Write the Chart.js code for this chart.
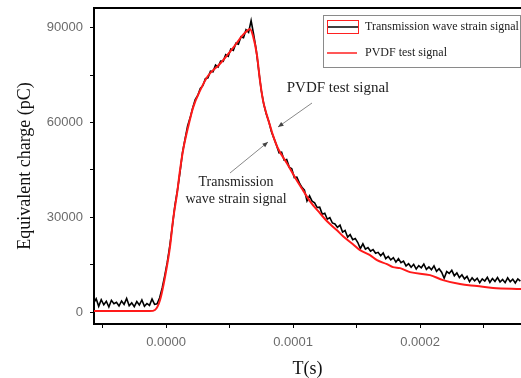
<!DOCTYPE html>
<html>
<head>
<meta charset="utf-8">
<script src="https://cdn.jsdelivr.net/npm/chart.js@4"></script>
<style>
  html, body { margin: 0; padding: 0; background: #fff; overflow: hidden; }
  canvas { display: block; }
</style>
</head>
<body>
<canvas id="chart" width="521" height="378"></canvas>
<script>
// time in microseconds, charge in pC
const pvdfTime = [
    -56.7, -12.6, -8.7, -4.7, -0.8, 3.1, 5.5, 8.7, 11.0, 13.4, 17.3, 21.3, 26.8, 33.1, 42.5,
    52.8, 60.6, 63.8, 66.1, 68.5, 71.7, 74.0, 76.4, 79.5, 81.9, 84.3, 88.2, 95.3, 101.6, 107.9,
    113.4, 121.3, 126.8, 134.6, 139.4, 147.2, 152.8, 160.6, 166.1, 174.0, 178.7, 184.3, 192.1,
    207.9, 218.1, 231.5, 244.9, 257.5, 279.5
];
const pvdfCharge = [
    300, 300, 630, 3790, 11050, 20530, 29050, 37580, 44840, 51160, 58420, 64740, 70110, 74840, 78630,
    83680, 87790, 89050, 89680, 87470, 81160, 73260, 66950, 62210, 59050, 55890, 51790, 47050, 42630, 38530,
    35050, 31260, 28740, 25890, 24000, 21470, 19580, 18000, 16420, 15160, 14210, 13890, 12630,
    11680, 10110, 8840, 8210, 7580, 7260
];

const strainTime = [
    -57, -55, -53, -51, -49, -47, -45, -43, -41, -39, -37, -35, -33, -31, -29, -27, -25, -23, -21, -19,
    -17, -15, -13, -11, -9, -7, -5, -3, -1, 1, 3, 5, 7, 9, 11, 13, 15, 17, 19, 21,
    23, 25, 27, 29, 31, 33, 35, 37, 39, 41, 43, 45, 47, 49, 51, 53, 55, 57, 59, 61,
    63, 65, 67, 69, 71, 73, 75, 77, 79, 81, 83, 85, 87, 89, 91, 93, 95, 97, 99, 101,
    103, 105, 107, 109, 111, 113, 115, 117, 119, 121, 123, 125, 127, 129, 131, 133, 135, 137, 139, 141,
    143, 145, 147, 149, 151, 153, 155, 157, 159, 161, 163, 165, 167, 169, 171, 173, 175, 177, 179, 181,
    183, 185, 187, 189, 191, 193, 195, 197, 199, 201, 203, 205, 207, 209, 211, 213, 215, 217, 219, 221,
    223, 225, 227, 229, 231, 233, 235, 237, 239, 241, 243, 245, 247, 249, 251, 253, 255, 257, 259, 261,
    263, 265, 267, 269, 271, 273, 275, 277, 279
];
const strainCharge = [
    2800, 4200, 1800, 3900, 2300, 3400, 1600, 3700, 2600, 3100, 1900, 3500, 2400, 4300, 2000, 2900, 1700, 3300, 2200, 3800,
    1800, 2700, 2100, 4100, 2400, 2600, 4500, 7600, 11500, 15800, 21000, 27200, 33800, 38600, 44200, 50600, 54800, 58900, 61500, 64600,
    67300, 68600, 70800, 71700, 73900, 74200, 76300, 76100, 78200, 77600, 79500, 79400, 81500, 81000, 83300, 82900, 85100, 84800, 87200, 86900,
    89400, 88600, 92300, 87900, 83000, 76500, 70200, 65800, 62600, 60300, 57100, 55000, 52800, 50400, 50600, 48100, 48300, 45900, 45400, 42600,
    42700, 40900, 39500, 38600, 35200, 36800, 35100, 34600, 33100, 33200, 31000, 31300, 29400, 29900, 28200, 27900, 26800, 27500, 25300, 25800,
    23700, 24500, 22900, 23300, 22000, 20100, 21600, 19900, 20400, 19300, 19800, 18600, 18900, 17800, 18700, 16900, 17600, 16500, 17200, 15800,
    16900, 15600, 16100, 14600, 15300, 14200, 15100, 13600, 14700, 14000, 15200, 13500, 14300, 13400, 14600, 12900, 13700, 12600, 10700, 12800,
    12200, 13200, 11500, 12400, 10900, 11800, 10500, 11300, 9600, 10800, 9900, 10700, 9300, 10500, 9800, 11000, 9400, 10600, 9700, 10900,
    9500, 10300, 9300, 10800, 9600, 10400, 9200, 10500, 9800
];

// tick positions (minor ticks get empty labels)
const chargeTicks = [0, 15000, 30000, 45000, 60000, 75000, 90000];
const timeTicks = [-50, 0, 50, 100, 150, 200, 250];

const serif = '"Liberation Serif", "Times New Roman", serif';
const sans = '"Liberation Sans", Arial, sans-serif';

function arrow(ctx, x1, y1, x2, y2) {
    const a = Math.atan2(y2 - y1, x2 - x1);
    ctx.beginPath();
    ctx.moveTo(x1, y1);
    ctx.lineTo(x2, y2);
    ctx.stroke();
    ctx.beginPath();
    ctx.moveTo(x2, y2);
    ctx.lineTo(x2 - 6 * Math.cos(a - 0.4), y2 - 6 * Math.sin(a - 0.4));
    ctx.lineTo(x2 - 6 * Math.cos(a + 0.4), y2 - 6 * Math.sin(a + 0.4));
    ctx.closePath();
    ctx.fill();
}

const extras = {
    id: 'extras',
    afterDraw(chart) {
        const ctx = chart.ctx;
        const area = chart.chartArea;
        ctx.save();
        // top frame line
        ctx.strokeStyle = '#000';
        ctx.lineWidth = 2;
        ctx.beginPath();
        ctx.moveTo(area.left, area.top);
        ctx.lineTo(area.right, area.top);
        ctx.stroke();

        // legend box
        ctx.strokeStyle = '#8a8a8a';
        ctx.lineWidth = 1;
        ctx.strokeRect(323.5, 15.5, 197, 52);
        ctx.strokeStyle = '#ff2020';
        ctx.strokeRect(327.5, 20.5, 31, 13);
        ctx.strokeStyle = '#000';
        ctx.lineWidth = 1.5;
        ctx.beginPath();
        ctx.moveTo(328, 27);
        ctx.lineTo(358, 27);
        ctx.stroke();
        ctx.strokeStyle = '#ff2020';
        ctx.beginPath();
        ctx.moveTo(327, 53);
        ctx.lineTo(357, 53);
        ctx.stroke();
        ctx.fillStyle = '#222';
        ctx.font = '12px ' + serif;
        ctx.textAlign = 'left';
        ctx.textBaseline = 'middle';
        ctx.fillText('Transmission wave strain signal', 365, 27);
        ctx.fillText('PVDF test signal', 365, 53);

        // annotations
        ctx.textAlign = 'center';
        ctx.font = '15px ' + serif;
        ctx.fillText('PVDF test signal', 338, 88);
        ctx.font = '14px ' + serif;
        ctx.fillText('Transmission', 236, 182);
        ctx.fillText('wave strain signal', 236, 199);

        ctx.strokeStyle = '#888';
        ctx.fillStyle = '#444';
        ctx.lineWidth = 1;
        arrow(ctx, 312, 103, 278, 127);
        arrow(ctx, 230, 173, 268, 142);
        ctx.restore();
    }
};

new Chart(document.getElementById('chart'), {
    type: 'line',
    data: {
        datasets: [
            {
                label: 'PVDF test signal',
                data: pvdfTime.map((t, i) => ({ x: t, y: pvdfCharge[i] })),
                borderColor: '#ff1a1a',
                borderWidth: 2,
                pointRadius: 0,
                cubicInterpolationMode: 'monotone',
                order: 0
            },
            {
                label: 'Transmission wave strain signal',
                data: strainTime.map((t, i) => ({ x: t, y: strainCharge[i] })),
                borderColor: '#000',
                borderWidth: 1.6,
                pointRadius: 0,
                tension: 0,
                order: 1
            }
        ]
    },
    options: {
        responsive: false,
        animation: false,
        layout: { padding: { top: 8, left: 0, right: 0, bottom: 0 } },
        plugins: {
            legend: { display: false },
            tooltip: { enabled: false }
        },
        scales: {
            x: {
                type: 'linear',
                min: -56.7,
                max: 279.5,
                afterBuildTicks: s => { s.ticks = timeTicks.map(v => ({ value: v })); },
                afterFit: s => { s.height = 54; s.paddingLeft = 0; s.paddingRight = 0; },
                border: { color: '#000', width: 2 },
                grid: { drawOnChartArea: false, tickColor: '#000', tickLength: 4 },
                ticks: {
                    autoSkip: false,
                    maxRotation: 0,
                    padding: 7,
                    color: '#6b6b6b',
                    font: { family: sans, size: 13 },
                    callback: v => v % 100 === 0 ? (v / 1e6).toFixed(4) : ''
                },
                title: {
                    display: true,
                    text: 'T(s)',
                    color: '#111',
                    font: { family: serif, size: 18, lineHeight: 1 },
                    padding: { top: 0, bottom: 0 }
                }
            },
            y: {
                min: -3800,
                max: 96300,
                afterBuildTicks: s => { s.ticks = chargeTicks.map(v => ({ value: v })); },
                afterFit: s => { s.width = 94; s.paddingTop = 0; s.paddingBottom = 0; },
                border: { color: '#000', width: 2 },
                grid: { drawOnChartArea: false, tickColor: '#000', tickLength: 4 },
                ticks: {
                    autoSkip: false,
                    padding: 7,
                    color: '#6b6b6b',
                    font: { family: sans, size: 13 },
                    callback: v => v % 30000 === 0 ? v : ''
                },
                title: {
                    display: true,
                    text: 'Equivalent charge (pC)',
                    color: '#111',
                    font: { family: serif, size: 18, lineHeight: 1 },
                    padding: { top: 16, bottom: 0 }
                }
            }
        }
    },
    plugins: [extras]
});
</script>
</body>
</html>
